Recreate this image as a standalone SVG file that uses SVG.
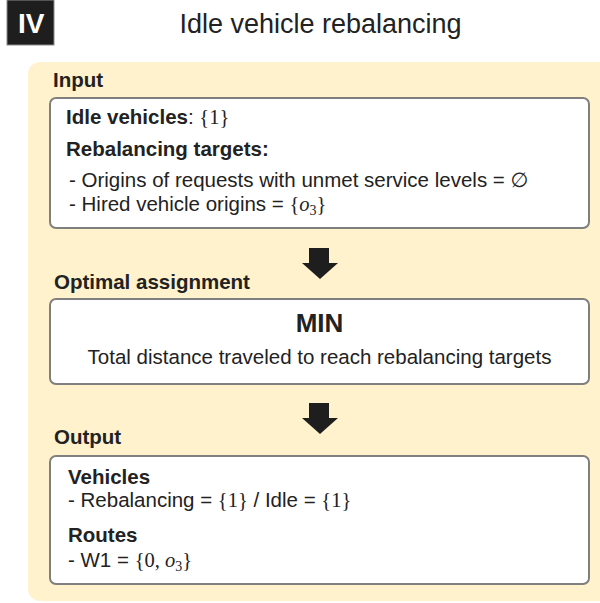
<svg xmlns="http://www.w3.org/2000/svg" width="600" height="603" viewBox="0 0 600 603">
<style>
.t{font-family:"Liberation Sans",Arial,sans-serif;fill:#222;}
.b{font-weight:bold;}
.body{font-size:20.5px;}
.hd{font-size:20.5px;font-weight:bold;}
.m{font-family:"Liberation Serif","Times New Roman",serif;}
.box{fill:#fff;stroke:#7f7f7f;stroke-width:2;}
.arrow{fill:#1e1e1e;}
</style>
<rect x="0" y="0" width="600" height="603" fill="#fff"/>
<g id="label-iv">
<rect x="7" y="0" width="47" height="45" fill="#1e1e1e" stroke="#8a8a8a" stroke-width="1"/>
<text x="18" y="33" class="t b" style="fill:#fff;font-size:28px">IV</text>
</g>
<text id="title" x="320.5" y="33" class="t" text-anchor="middle" style="font-size:27px">Idle vehicle rebalancing</text>
<rect id="panel" x="28" y="62" width="600" height="539" rx="12" fill="#fff2cc"/>
<g id="input">
<text x="53" y="87" class="t hd">Input</text>
<rect x="50" y="98" width="539" height="130" rx="6" class="box"/>
<text x="66" y="124" class="t body"><tspan class="b">Idle vehicles</tspan>: <tspan class="m">{1}</tspan></text>
<text x="66" y="156" class="t hd">Rebalancing targets:</text>
<text x="69" y="187" class="t body">- Origins of requests with unmet service levels = <tspan style="font-family:'DejaVu Sans',sans-serif">∅</tspan></text>
<text x="69" y="211" class="t body">- Hired vehicle origins = <tspan class="m">{<tspan font-style="italic">o</tspan><tspan font-size="14" dy="4">3</tspan><tspan dy="-4">}</tspan></tspan></text>
</g>
<g id="optimal">
<text x="54" y="289" class="t hd">Optimal assignment</text>
<rect x="50" y="299" width="539" height="85" rx="6" class="box"/>
<text x="319.5" y="332" class="t b" text-anchor="middle" style="font-size:26px">MIN</text>
<text x="319.5" y="364" class="t body" text-anchor="middle">Total distance traveled to reach rebalancing targets</text>
</g>
<g id="output">
<text x="54" y="444" class="t hd">Output</text>
<rect x="50" y="456" width="539" height="128" rx="6" class="box"/>
<text x="68" y="484" class="t hd">Vehicles</text>
<text x="68" y="507" class="t body">- Rebalancing = <tspan class="m">{1}</tspan> / Idle = <tspan class="m">{1}</tspan></text>
<text x="68" y="542" class="t hd">Routes</text>
<text x="68" y="567" class="t body">- W1 = <tspan class="m">{0, <tspan font-style="italic">o</tspan><tspan font-size="14" dy="4">3</tspan><tspan dy="-4">}</tspan></tspan></text>
</g>
<g id="connectors">
<polygon class="arrow" points="309,248 329,248 329,263 338,263 320,279 302,263 309,263"/>
<polygon class="arrow" points="309,403 329,403 329,418 338,418 320,434 302,418 309,418"/>
</g>
</svg>
